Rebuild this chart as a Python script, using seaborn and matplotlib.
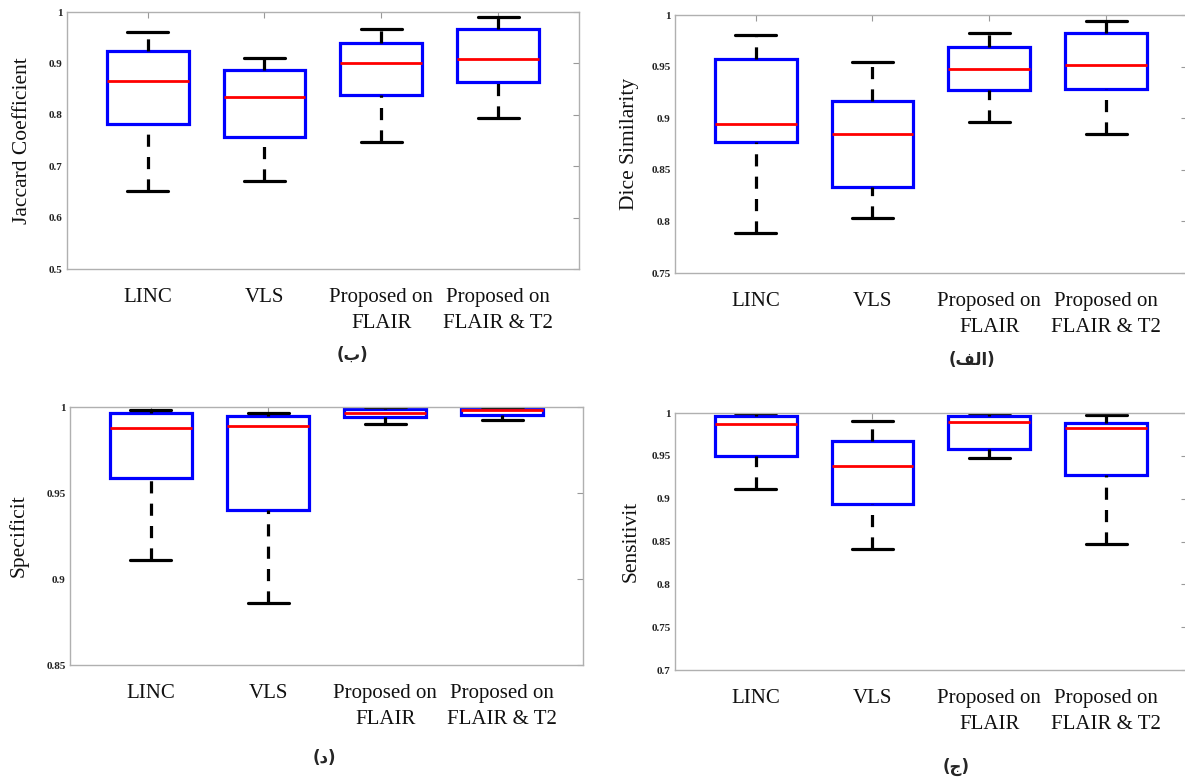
import numpy as np
import pandas as pd
import seaborn as sns
import matplotlib.pyplot as plt

methods = ["LINC", "VLS", "Proposed on\nFLAIR", "Proposed on\nFLAIR & T2"]

# five-number summaries: whisker low, q1, median, q3, whisker high
jaccard = [
    [0.652, 0.782, 0.865, 0.924, 0.962],
    [0.671, 0.757, 0.835, 0.888, 0.911],
    [0.747, 0.838, 0.901, 0.940, 0.968],
    [0.793, 0.864, 0.908, 0.968, 0.990],
]
dice = [
    [0.789, 0.877, 0.894, 0.957, 0.981],
    [0.803, 0.833, 0.885, 0.917, 0.954],
    [0.896, 0.927, 0.948, 0.969, 0.983],
    [0.885, 0.928, 0.952, 0.983, 0.994],
]
specificity = [
    [0.911, 0.959, 0.988, 0.9965, 0.998],
    [0.886, 0.940, 0.989, 0.995, 0.9965],
    [0.990, 0.994, 0.9965, 0.999, 0.9998],
    [0.9924, 0.9955, 0.998, 0.9994, 0.9999],
]
sensitivity = [
    [0.911, 0.950, 0.987, 0.9965, 0.9995],
    [0.841, 0.894, 0.938, 0.967, 0.991],
    [0.947, 0.958, 0.990, 0.9965, 0.9995],
    [0.847, 0.928, 0.982, 0.988, 0.998],
]

panels = [
    # values, y label, y limits, y step, caption
    (jaccard, "Jaccard Coefficient", (0.5, 1.0), 0.1, "(\u0628)"),
    (dice, "Dice Similarity", (0.75, 1.0), 0.05, "(\uFED2\uFEDF\uFE8D)"),  # "الف" shaped by hand
    (specificity, "Specificit", (0.85, 1.0), 0.05, "(\u062F)"),
    (sensitivity, "Sensitivit", (0.7, 1.0), 0.05, "(\u062C)"),
]

rects = [
    [0.0565, 0.6542, 0.432, 0.3303],
    [0.5696, 0.6491, 0.432, 0.3316],
    [0.0591, 0.1452, 0.433, 0.3316],
    [0.5696, 0.1388, 0.432, 0.3303],
]
label_x = [-0.068, -0.070, -0.080, -0.068]
caption_xy = [(0.297, 0.5437), (0.820, 0.5373), (0.274, 0.0257), (0.807, 0.0141)]

sns.set_style("white")
plt.rcParams["font.family"] = ["Liberation Serif", "DejaVu Sans"]

fig = plt.figure(figsize=(11.85, 7.78), dpi=100)

for (vals, ylab, ylim, step, cap), rect, lx, cxy in zip(panels, rects, label_x, caption_xy):
    ax = fig.add_axes(rect)
    df = pd.DataFrame(
        [(m, v) for m, row in zip(methods, vals) for v in row],
        columns=["method", "value"],
    )
    sns.boxplot(
        data=df, x="method", y="value", order=methods, ax=ax,
        whis=(0, 100), width=0.7, fill=True, showfliers=False,
        boxprops={"facecolor": "white", "edgecolor": "#0000ff", "linewidth": 2.3},
        medianprops={"color": "#ff0000", "linewidth": 2.0},
        whiskerprops={"color": "black", "linewidth": 2.3, "linestyle": (0, (3.8, 3.2))},
        capprops={"color": "black", "linewidth": 2.3},
    )
    # MATLAB-style dashes start from the low end of each whisker
    for ln in ax.lines:
        xd, yd = np.asarray(ln.get_xdata()), np.asarray(ln.get_ydata())
        if len(xd) == 2 and xd[0] == xd[1] and yd[0] != yd[1]:
            ln.set_data(xd, np.sort(yd))

    ax.set_xlim(-0.69, 3.69)
    ax.set_ylim(*ylim)
    ticks = np.round(np.arange(ylim[0], ylim[1] + step / 2, step), 2)
    ax.set_yticks(ticks)
    ax.set_yticklabels([f"{t:g}" for t in ticks], fontweight="bold", fontsize=8, color="#222222")
    ax.set_xticks(range(len(methods)))
    ax.set_xticklabels(methods, fontsize=15, color="#111111", linespacing=1.45)
    ax.set_xlabel("")
    ax.set_ylabel(ylab, fontsize=15.5, color="#111111")
    ax.yaxis.set_label_coords(lx, 0.5)
    ax.tick_params(axis="both", direction="in", length=4, width=0.8, color="#999999",
                   top=True, right=True)
    ax.tick_params(axis="x", pad=14)
    ax.tick_params(axis="y", pad=3)
    for sp in ax.spines.values():
        sp.set_visible(True)
        sp.set_color("#b0b0b0")
        sp.set_linewidth(1.0)

    fig.text(cxy[0], cxy[1], cap, ha="center", va="center", fontsize=12,
             fontweight="bold", family=["DejaVu Sans"])

fig.savefig("out.png", dpi=100)
